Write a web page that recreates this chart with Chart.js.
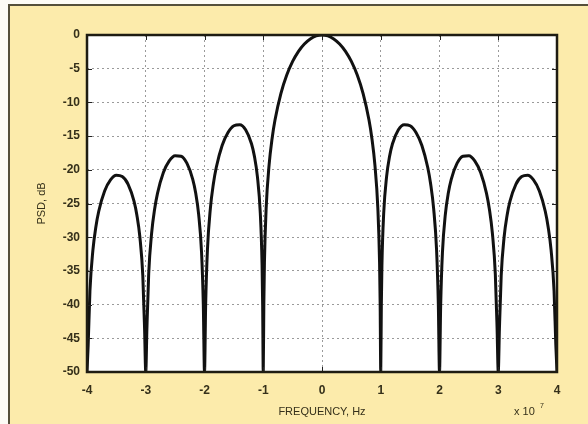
<!DOCTYPE html>
<html>
<head>
<meta charset="utf-8">
<script src="https://cdn.jsdelivr.net/npm/chart.js@4"></script>
<style>
  html, body { margin: 0; padding: 0; background: #fdfcf6; }
  #wrap { position: relative; width: 588px; height: 424px; overflow: hidden; }
  #frame {
    position: absolute; left: 8px; top: 4px; width: 620px; height: 440px;
    border-left: 2px solid #55503a; border-top: 2px solid #55503a;
    background: #fcebab;
  }
  #chart { position: absolute; left: 0; top: 0; }
</style>
</head>
<body>
<div id="wrap">
  <div id="frame"></div>
  <canvas id="chart" width="588" height="424"></canvas>
</div>
<script>
// frequency (x 10^7 Hz) and PSD (dB)
const freqs = [
  -4, -3.98, -3.95, -3.9, -3.85, -3.8, -3.7, -3.6, -3.5, -3.4, -3.3, -3.2, -3.15, -3.1, -3.05, -3.02,
  -3, -2.98, -2.95, -2.9, -2.85, -2.8, -2.7, -2.6, -2.5, -2.4, -2.3, -2.2, -2.15, -2.1, -2.05, -2.02,
  -2, -1.98, -1.95, -1.9, -1.85, -1.8, -1.7, -1.6, -1.5, -1.4, -1.3, -1.2, -1.15, -1.1, -1.05, -1.02, -1.01,
  -1, -0.99, -0.98, -0.95, -0.9, -0.85, -0.8, -0.7, -0.6, -0.5, -0.4, -0.3, -0.2, -0.1,
  0, 0.1, 0.2, 0.3, 0.4, 0.5, 0.6, 0.7, 0.8, 0.85, 0.9, 0.95, 0.98, 0.99,
  1, 1.01, 1.02, 1.05, 1.1, 1.15, 1.2, 1.3, 1.4, 1.5, 1.6, 1.7, 1.8, 1.85, 1.9, 1.95, 1.98,
  2, 2.02, 2.05, 2.1, 2.15, 2.2, 2.3, 2.4, 2.5, 2.6, 2.7, 2.8, 2.85, 2.9, 2.95, 2.98,
  3, 3.02, 3.05, 3.1, 3.15, 3.2, 3.3, 3.4, 3.5, 3.6, 3.7, 3.8, 3.85, 3.9, 3.95, 3.98, 4
];
const psdDb = [
  -50, -45.98, -37.99, -31.96, -28.51, -26.15, -23.15, -21.50, -20.82, -21.01, -22.15, -24.66, -26.77, -29.97, -35.74, -43.59,
  -50, -43.47, -35.45, -29.39, -25.90, -23.50, -20.41, -18.68, -17.90, -17.98, -19.02, -21.41, -23.45, -26.59, -32.29, -40.09,
  -50, -39.92, -31.86, -25.72, -22.14, -19.66, -16.39, -14.46, -13.46, -13.30, -14.06, -16.14, -18.01, -20.97, -26.48, -34.16, -40.1,
  -50, -39.9, -33.81, -25.61, -19.23, -15.39, -12.62, -8.69, -5.94, -3.92, -2.42, -1.33, -0.58, -0.14,
  0, -0.14, -0.58, -1.33, -2.42, -3.92, -5.94, -8.69, -12.62, -15.39, -19.23, -25.61, -33.81, -39.9,
  -50, -40.1, -34.16, -26.48, -20.97, -18.01, -16.14, -14.06, -13.30, -13.46, -14.46, -16.39, -19.66, -22.14, -25.72, -31.86, -39.92,
  -50, -40.09, -32.29, -26.59, -23.45, -21.41, -19.02, -17.98, -17.90, -18.68, -20.41, -23.50, -25.90, -29.39, -35.45, -43.47,
  -50, -43.59, -35.74, -29.97, -26.77, -24.66, -22.15, -21.01, -20.82, -21.50, -23.15, -26.15, -28.51, -31.96, -37.99, -45.98, -50
];
const xTicks = [-4, -3, -2, -1, 0, 1, 2, 3, 4];
const yTicks = [0, -5, -10, -15, -20, -25, -30, -35, -40, -45, -50];
const xTitle = 'FREQUENCY, Hz';
const yTitle = 'PSD, dB';
const xExponent = '7';

const textColor = '#35301a';
const font = '"Liberation Sans", Arial, sans-serif';

const framePlugin = {
  id: 'frame',
  beforeDraw(chart) {
    const { ctx, chartArea: a } = chart;
    ctx.save();
    ctx.fillStyle = '#ffffff';
    ctx.fillRect(a.left, a.top, a.right - a.left, a.bottom - a.top);
    ctx.restore();
  },
  afterDraw(chart) {
    const { ctx, chartArea: a, scales } = chart;
    ctx.save();
    // small inward tick marks on all four sides
    ctx.strokeStyle = '#222';
    ctx.lineWidth = 1;
    ctx.beginPath();
    xTicks.forEach(v => {
      const px = Math.round(scales.x.getPixelForValue(v)) + 0.5;
      ctx.moveTo(px, a.bottom); ctx.lineTo(px, a.bottom - 5);
      ctx.moveTo(px, a.top); ctx.lineTo(px, a.top + 5);
    });
    yTicks.forEach(v => {
      const py = Math.round(scales.y.getPixelForValue(v)) + 0.5;
      ctx.moveTo(a.left, py); ctx.lineTo(a.left + 5, py);
      ctx.moveTo(a.right, py); ctx.lineTo(a.right - 5, py);
    });
    ctx.stroke();
    // box
    ctx.strokeStyle = '#1e1c12';
    ctx.lineWidth = 2.5;
    ctx.strokeRect(a.left, a.top, a.right - a.left, a.bottom - a.top);

    // axis titles
    ctx.fillStyle = textColor;
    ctx.font = '11px ' + font;
    ctx.textAlign = 'center';
    ctx.textBaseline = 'middle';
    ctx.fillText(xTitle, (a.left + a.right) / 2, 412);
    ctx.save();
    ctx.translate(42, (a.top + a.bottom) / 2);
    ctx.rotate(-Math.PI / 2);
    ctx.fillText(yTitle, 0, 0);
    ctx.restore();
    // x 10^7 multiplier
    ctx.textAlign = 'left';
    ctx.fillText('x 10', 514, 412);
    ctx.font = '7px ' + font;
    ctx.fillText(xExponent, 540, 406);
    ctx.restore();
  }
};

new Chart(document.getElementById('chart'), {
  type: 'line',
  data: {
    datasets: [{
      data: freqs.map((f, i) => ({ x: f, y: psdDb[i] })),
      borderColor: '#111111',
      borderWidth: 3,
      pointRadius: 0,
      cubicInterpolationMode: 'monotone',
      fill: false
    }]
  },
  options: {
    responsive: false,
    animation: false,
    layout: { padding: { left: 0, top: 35, right: 31, bottom: 0 } },
    plugins: { legend: { display: false }, tooltip: { enabled: false } },
    scales: {
      x: {
        type: 'linear',
        min: -4,
        max: 4,
        afterFit: (s) => { s.height = 52; },
        afterBuildTicks: (s) => { s.ticks = xTicks.map(v => ({ value: v })); },
        ticks: { color: textColor, font: { size: 12, family: font, weight: 'bold' }, padding: 11 },
        grid: { color: '#9a9a9a', drawTicks: false, lineWidth: 1 },
        border: { display: false, dash: [2, 3] }
      },
      y: {
        min: -50,
        max: 0,
        afterFit: (s) => { s.width = 87; },
        afterBuildTicks: (s) => { s.ticks = yTicks.map(v => ({ value: v })); },
        ticks: { color: textColor, font: { size: 12, family: font, weight: 'bold' }, padding: 7 },
        grid: { color: '#9a9a9a', drawTicks: false, lineWidth: 1 },
        border: { display: false, dash: [2, 3] }
      }
    }
  },
  plugins: [framePlugin]
});
</script>
</body>
</html>
